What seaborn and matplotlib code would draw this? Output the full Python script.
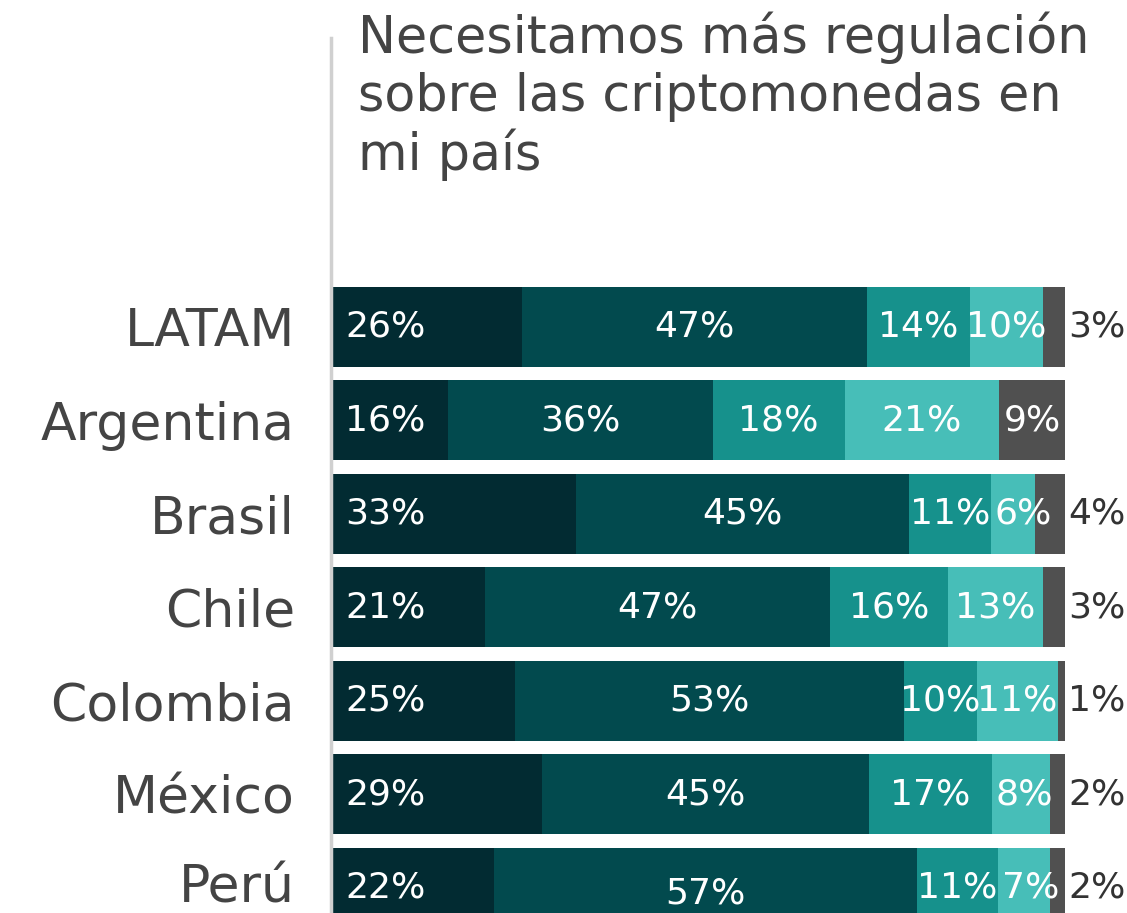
import matplotlib
matplotlib.use("Agg")
import matplotlib.pyplot as plt
import matplotlib.transforms as mtransforms
import seaborn as sns
import numpy as np
import pandas as pd

categories = ["LATAM", "Argentina", "Brasil", "Chile", "Colombia", "México", "Perú"]
seg1 = [26, 16, 33, 21, 25, 29, 22]
seg2 = [47, 36, 45, 47, 53, 45, 57]
seg3 = [14, 18, 11, 16, 10, 17, 11]
seg4 = [10, 21, 6, 13, 11, 8, 7]
seg5 = [3, 9, 4, 3, 1, 2, 2]
title = "Necesitamos más regulación\nsobre las criptomonedas en\nmi país"
colors = ["#022b32", "#024a4e", "#16918c", "#47beb8", "#505050"]

sns.set_theme(style="white")
plt.rcParams["font.family"] = ["DejaVu Sans"]

W, H = 1127, 913
fig = plt.figure(figsize=(W / 100, H / 100), dpi=100)
ax_left, ax_right = 331 / W, 1065 / W
ax_top = 38 / H
ax = fig.add_axes([ax_left, 0, ax_right - ax_left, 1 - ax_top])

segs = np.array([seg1, seg2, seg3, seg4, seg5], dtype=float)
shares = segs / segs.sum(axis=0) * 100  # 100% stacked
cum = np.cumsum(shares, axis=0)
df = pd.DataFrame({"cat": categories})
for k in range(4, -1, -1):
    df["v"] = cum[k]
    sns.barplot(data=df, x="v", y="cat", orient="h", color=colors[k],
                width=80 / 93.5, saturation=1, ax=ax, linewidth=0, zorder=2)

ax.set_xlim(0, 100)
ax.set_ylim(6.27, -3.09)
ax.set_xlabel("")
ax.set_ylabel("")
ax.set_xticks([])
for s in ["top", "right", "bottom"]:
    ax.spines[s].set_visible(False)
ax.spines["left"].set_color("#d0d0d0")
ax.spines["left"].set_linewidth(2.5)
ax.spines["left"].set_zorder(5)
ax.tick_params(axis="y", length=0, pad=26, labelsize=37.5, labelcolor="#444444")
# nudge the last (partially visible) row label up slightly so it stays inside
last = ax.get_yticklabels()[-1]
last.set_transform(last.get_transform() +
                   mtransforms.ScaledTranslation(0, 5 / 100, fig.dpi_scale_trans))

fs = 26
for i in range(len(categories)):
    left = 0
    for k in range(5):
        v = int(segs[k][i])
        w = shares[k][i]
        y = i + (0.06 if (i == 6 and k == 1) else 0)
        if k == 0:
            ax.text(left + 1.9, i, f"{v}%", color="white", fontsize=fs,
                    va="center", ha="left", zorder=6)
        elif k == 4 and v < 5:
            ax.text(100 + 0.4, i, f"{v}%", color="#333333", fontsize=fs,
                    va="center", ha="left", zorder=6, clip_on=False)
        elif w < 8:
            ax.text(left + 0.5, y, f"{v}%", color="white", fontsize=fs,
                    va="center", ha="left", zorder=6, clip_on=False)
        else:
            ax.text(left + w / 2, y, f"{v}%", color="white", fontsize=fs,
                    va="center", ha="center", zorder=6, clip_on=False)
        left += w

fig.text(358 / W, 1 - 12 / H, title, fontsize=36.5, color="#444444",
         ha="left", va="top", linespacing=1.18)

fig.savefig("out.png", dpi=100)
